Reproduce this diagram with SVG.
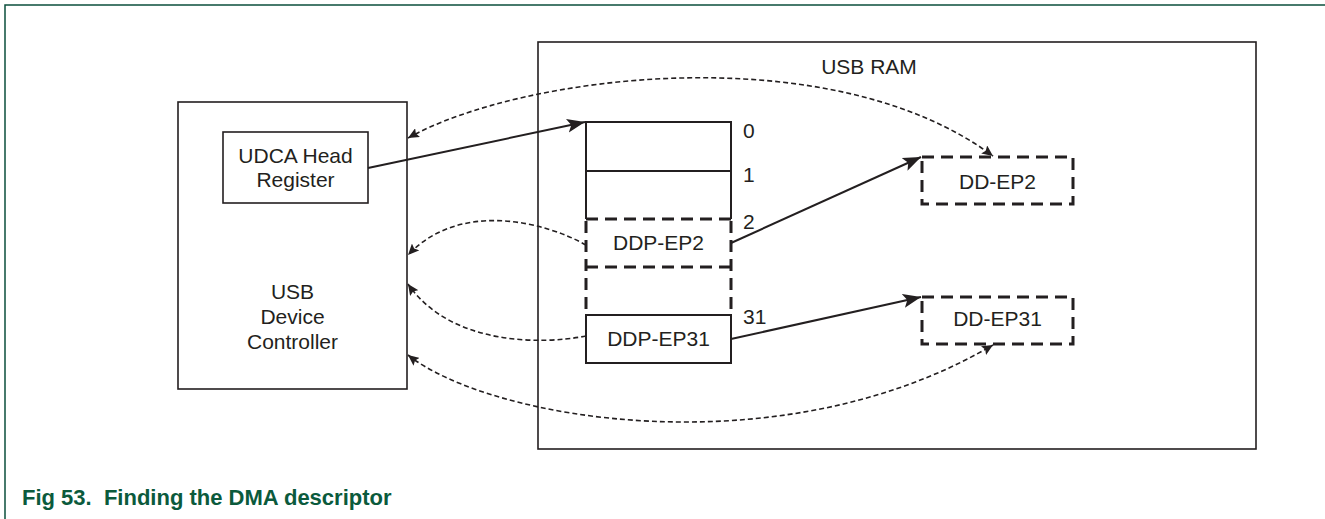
<svg xmlns="http://www.w3.org/2000/svg" width="1325" height="519" viewBox="0 0 1325 519">
<style>
.box{fill:#fff;stroke:#231f20;stroke-width:1.6}
.solid{fill:none;stroke:#231f20;stroke-width:2}
.dbox{fill:none;stroke:#231f20;stroke-width:3;stroke-dasharray:12 7}
.t{font-family:"Liberation Sans",Arial,sans-serif;font-size:21px;fill:#231f20}
.c{text-anchor:middle}
.arrow{fill:none;stroke:#231f20;stroke-width:2}
.darrow{fill:none;stroke:#231f20;stroke-width:1.6;stroke-dasharray:5 3}
</style>
<defs>
<marker id="ah" markerUnits="userSpaceOnUse" markerWidth="20" markerHeight="16" refX="18" refY="7" orient="auto" viewBox="0 0 20 14">
<path d="M0,0 L18,7 L0,14 L4,7 z" fill="#231f20"/>
</marker>
<marker id="dh" markerUnits="userSpaceOnUse" markerWidth="12" markerHeight="10" refX="11" refY="5" orient="auto-start-reverse" viewBox="0 0 12 10">
<path d="M0,0 L11,5 L0,10 L2,5 z" fill="#231f20"/>
</marker>
</defs>
<g id="frame">
<path d="M5,519 L5,5 L1325,5" fill="none" stroke="#0b4f3c" stroke-width="1.5"/>
</g>
<g id="usb-ram">
<rect class="box" x="538" y="42" width="718" height="407"/>
<text class="t c" x="869" y="74">USB RAM</text>
</g>
<g id="usb-device-controller">
<rect class="box" x="178" y="102" width="229" height="287"/>
<text class="t c" x="292.5" y="299">USB</text>
<text class="t c" x="292.5" y="324">Device</text>
<text class="t c" x="292.5" y="349">Controller</text>
</g>
<g id="udca-head-register">
<rect class="box" x="223" y="132" width="145" height="71"/>
<text class="t c" x="295.5" y="163">UDCA Head</text>
<text class="t c" x="295.5" y="187">Register</text>
</g>
<g id="udca-table">
<path class="solid" d="M586,219 L586,122 L731,122 L731,219 M586,171 L731,171"/>
<path class="dbox" d="M586,219 L731,219 M586,267 L731,267 M586,221 L586,315 M731,221 L731,315"/>
<rect class="solid" x="586" y="315" width="145" height="48"/>
<text class="t" x="743" y="138">0</text>
<text class="t" x="743" y="182">1</text>
<text class="t" x="743" y="229">2</text>
<text class="t" x="743" y="324">31</text>
</g>
<g id="ddp-ep2">
<text class="t c" x="658.5" y="250">DDP-EP2</text>
</g>
<g id="ddp-ep31">
<text class="t c" x="658.5" y="346">DDP-EP31</text>
</g>
<g id="dd-ep2">
<rect class="dbox" x="922" y="157" width="151" height="47"/>
<text class="t c" x="997.5" y="189">DD-EP2</text>
</g>
<g id="dd-ep31">
<rect class="dbox" x="922" y="297" width="151" height="47"/>
<text class="t c" x="997.5" y="326">DD-EP31</text>
</g>
<g id="connectors">
<path class="arrow" d="M368,168 L585,122" marker-end="url(#ah)"/>
<path class="arrow" d="M731,243 L921,157" marker-end="url(#ah)"/>
<path class="arrow" d="M731,339 L921,297" marker-end="url(#ah)"/>
<path class="darrow" d="M408,138 C520,75 830,35 993,156" marker-start="url(#dh)" marker-end="url(#dh)"/>
<path class="darrow" d="M586,245 C545,222 460,200 408,255" marker-end="url(#dh)"/>
<path class="darrow" d="M586,336 C540,345 450,345 408,284" marker-end="url(#dh)"/>
<path class="darrow" d="M408,355 C490,420 780,470 993,345" marker-start="url(#dh)" marker-end="url(#dh)"/>
</g>
<g id="caption">
<text x="22" y="505" xml:space="preserve" style="font-family:'Liberation Sans',Arial,sans-serif;font-size:22px;font-weight:bold;fill:#0b5a3c">Fig 53.  Finding the DMA descriptor</text>
</g>
</svg>
